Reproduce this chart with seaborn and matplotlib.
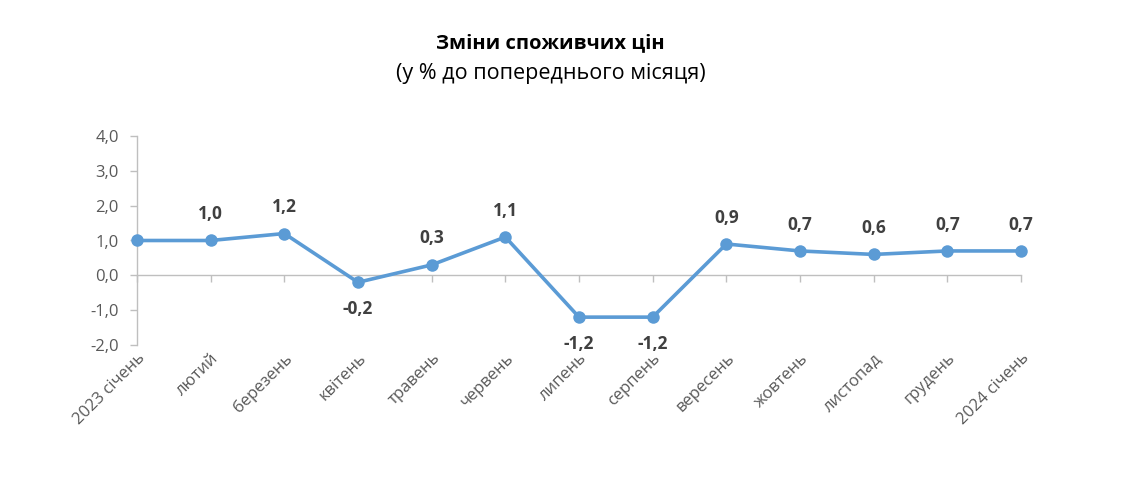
import matplotlib
matplotlib.use("Agg")
import matplotlib.pyplot as plt
import matplotlib.ticker as mticker
import seaborn as sns
import pandas as pd

months = ["2023 січень", "лютий", "березень", "квітень", "травень", "червень",
          "липень", "серпень", "вересень", "жовтень", "листопад", "грудень",
          "2024 січень"]
values = [1.0, 1.0, 1.2, -0.2, 0.3, 1.1, -1.2, -1.2, 0.9, 0.7, 0.6, 0.7, 0.7]
show_label = [False] + [True] * 12
y_ticks = [-2.0, -1.0, 0.0, 1.0, 2.0, 3.0, 4.0]

title = "Зміни споживчих цін"
subtitle = "(у % до попереднього місяця)"

sns.set_theme(style="white")
plt.rcParams["font.family"] = ["Open Sans", "DejaVu Sans"]

line_color = "#5B9BD5"
axis_color = "#BFBFBF"
tick_color = "#595959"

fig = plt.figure(figsize=(11.34, 4.98), dpi=100)
ax = fig.add_axes([137 / 1134, 1 - 345 / 498, (1021 - 137) / 1134, (345 - 136) / 498])

df = pd.DataFrame({"pos": range(len(months)), "value": values})
sns.lineplot(data=df, x="pos", y="value", ax=ax, color=line_color, linewidth=2.6,
             marker="o", markersize=9, markeredgecolor=line_color,
             markeredgewidth=0, clip_on=False, zorder=3)

ax.set_xlim(0, len(months) - 1)
ax.set_ylim(y_ticks[0], y_ticks[-1])
ax.set_yticks(y_ticks)
ax.yaxis.set_major_formatter(mticker.FuncFormatter(lambda v, p: f"{v:.1f}".replace(".", ",")))

for side in ["top", "right"]:
    ax.spines[side].set_visible(False)
ax.spines["left"].set_color(axis_color)
ax.spines["left"].set_linewidth(1.0)
ax.spines["bottom"].set_position(("data", 0))
ax.spines["bottom"].set_color(axis_color)
ax.spines["bottom"].set_linewidth(1.0)

ax.set_xticks(range(len(months)))
ax.set_xticklabels(months, rotation=45, ha="right", rotation_mode="anchor")
ax.tick_params(axis="x", direction="out", length=5, width=1, color=axis_color,
               labelsize=12, labelcolor=tick_color, pad=49, bottom=True)
ax.tick_params(axis="y", direction="out", length=5, width=1, color=axis_color,
               labelsize=12, labelcolor=tick_color, pad=8, left=True)
ax.set_xlabel("")
ax.set_ylabel("")
ax.grid(False)

for i, (v, s) in enumerate(zip(values, show_label)):
    if not s:
        continue
    off = 19 if v >= 0 else -19
    ax.annotate(f"{v:.1f}".replace(".", ","), xy=(i, v), xytext=(0, off),
                textcoords="offset points", ha="center", va="center",
                fontsize=12.5, fontweight="bold", color="#404040")

fig.text(550 / 1134, 1 - 43 / 498, title, ha="center", va="center", fontsize=14.5,
         fontweight="bold", color="#000000")
fig.text(551 / 1134, 1 - 73 / 498, subtitle, ha="center", va="center", fontsize=15.5,
         color="#000000")

fig.savefig("out.png", dpi=100)
